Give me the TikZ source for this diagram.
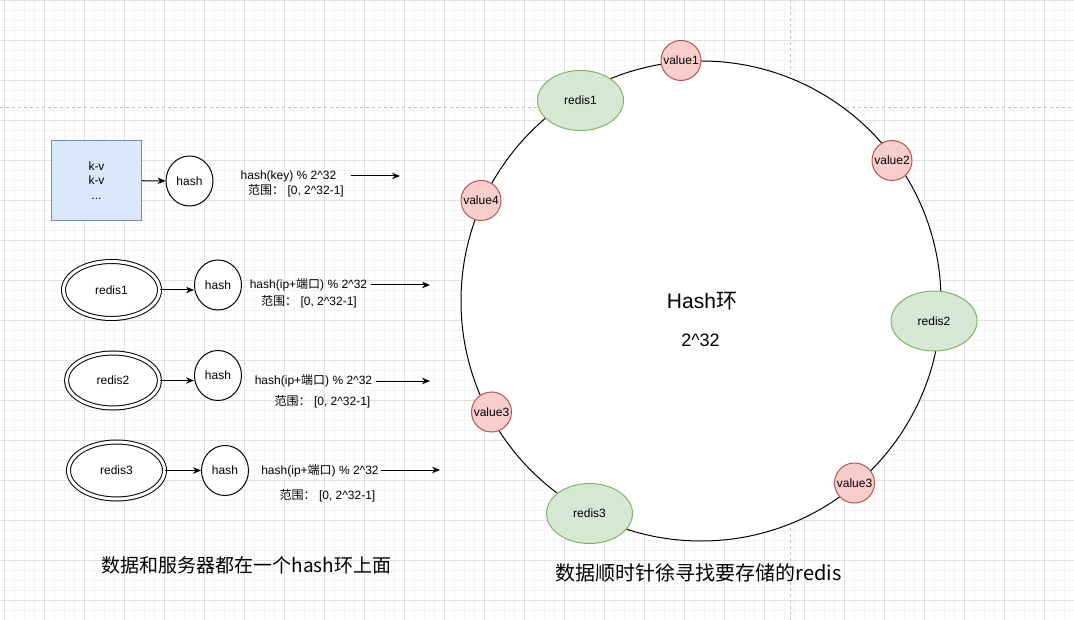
\documentclass[tikz,border=0pt]{standalone}
\usepackage{fontspec}
\setmainfont{Liberation Sans}
\newfontfamily\cjk{Noto Sans CJK SC}
\usetikzlibrary{positioning,shapes.geometric,arrows.meta}
\definecolor{bluefill}{HTML}{DAE8FC}
\definecolor{blueline}{HTML}{6C8EBF}
\definecolor{greenfill}{HTML}{D5E8D4}
\definecolor{greenline}{HTML}{82B366}
\definecolor{redfill}{HTML}{F8CECC}
\definecolor{redline}{HTML}{B85450}
\definecolor{minorline}{HTML}{F3F3F3}
\definecolor{majorline}{HTML}{E0E0E0}
\definecolor{pageline}{HTML}{C0C0C0}

\begin{document}
\begin{tikzpicture}[%
    x=1pt,
    y=-1pt,
    >={Stealth[length=8pt,width=6.5pt]},
    line width=1pt,
    font=\fontsize{12pt}{14.4pt}\selectfont,
    minorgrid/.style={%
      draw=minorline,
      line width=0.8pt
    },
    majorgrid/.style={%
      draw=majorline,
      line width=0.8pt
    },
    pagebreak/.style={%
      draw=pageline,
      line width=0.8pt,
      dash pattern=on 3pt off 3pt
    },
    kvbox/.style={%
      rectangle,
      draw=blueline,
      fill=bluefill,
      align=center,
      minimum width=90pt,
      minimum height=80pt
    },
    hashnode/.style={%
      ellipse,
      draw,
      fill=white,
      inner sep=0pt,
      minimum width=47pt,
      minimum height=50pt
    },
    srcnode/.style={%
      ellipse,
      draw,
      double,
      double distance=3pt,
      fill=white,
      inner sep=0pt,
      minimum width=96pt,
      minimum height=57pt
    },
    valnode/.style={%
      circle,
      draw=redline,
      fill=redfill,
      inner sep=0pt,
      minimum size=40pt
    },
    srvnode/.style={%
      ellipse,
      draw=greenline,
      fill=greenfill,
      inner sep=0pt,
      minimum width=86pt,
      minimum height=60pt
    },
    label/.style={%
      inner sep=0pt
    }
  ]
    \useasboundingbox (0,0) rectangle (1074,620);
    \fill[white] (0,0) rectangle (1074,620);

    % grid
    \foreach \x in {4,14,...,1074}
      \draw[minorgrid] (\x,0) -- (\x,620);
    \foreach \y in {0,10,...,620}
      \draw[minorgrid] (0,\y) -- (1074,\y);
    \foreach \x in {4,44,...,1074}
      \draw[majorgrid] (\x,0) -- (\x,620);
    \foreach \y in {0,40,...,620}
      \draw[majorgrid] (0,\y) -- (1074,\y);
    \draw[pagebreak] (0,107) -- (1074,107);
    \draw[pagebreak] (790,0) -- (790,620);

    % left side
    \node[kvbox] (kv) at (96.5,180.5) {k-v\\k-v\\...};
    \node[hashnode] (h1) at (189.5,181) {hash};
    \node[srcnode] (r1) at (111.5,290) {redis1};
    \node[hashnode] (h2) at (218,285) {hash};
    \node[srcnode, minimum width=93pt, minimum height=55pt] (r2) at (113,380.5) {redis2};
    \node[hashnode] (h3) at (218,375.5) {hash};
    \node[srcnode] (r3) at (116.5,470.5) {redis3};
    \node[hashnode] (h4) at (225,470.5) {hash};

    \node[label] (f1) at (288.5,176) {hash(key) \% 2\textasciicircum32};
    \node[label] (g1) at (296,191) {{\cjk 范围：} [0, 2\textasciicircum32-1]};
    \node[label] (f2) at (308.5,285) {hash(ip+{\cjk 端口}) \% 2\textasciicircum32};
    \node[label] (g2) at (309,302) {{\cjk 范围：} [0, 2\textasciicircum32-1]};
    \node[label] (f3) at (313.5,381) {hash(ip+{\cjk 端口}) \% 2\textasciicircum32};
    \node[label] (g3) at (322.5,402) {{\cjk 范围：} [0, 2\textasciicircum32-1]};
    \node[label] (f4) at (320,471) {hash(ip+{\cjk 端口}) \% 2\textasciicircum32};
    \node[label] (g4) at (327.5,496) {{\cjk 范围：} [0, 2\textasciicircum32-1]};

    \coordinate (s1) at (351,176);
    \coordinate (e1) at (400,176);
    \coordinate (s2) at (371,285);
    \coordinate (e2) at (430,285);
    \coordinate (s3) at (376,381);
    \coordinate (e3) at (430,381);
    \coordinate (s4) at (381,470);
    \coordinate (e4) at (440,470);

    \path[->] (kv) edge (h1)
          (r1.east) edge (r1.east -| h2.west)
          (r2.east) edge (r2.east -| h3.west)
          (r3.east) edge (r3.east -| h4.west)
          (s1) edge (e1)
          (s2) edge (e2)
          (s3) edge (e3)
          (s4) edge (e4);

    % hash ring
    \node[circle, draw, fill=white, minimum size=480pt] (ring) at (701,301) {};
    \node[label, font=\fontsize{21pt}{25pt}\selectfont] (title) at (702,301) {Hash{\cjk 环}};
    \node[label, font=\fontsize{18pt}{22pt}\selectfont] (size) at (700.5,340) {2\textasciicircum32};

    \node[valnode] (v1) at (681,60.5) {value1};
    \node[valnode] (v2) at (892,160.5) {value2};
    \node[valnode] (v4) at (481,200.5) {value4};
    \node[valnode] (v3a) at (491.5,412) {value3};
    \node[valnode] (v3b) at (854.5,483) {value3};
    \node[srvnode] (s1n) at (580.5,100.5) {redis1};
    \node[srvnode] (s2n) at (934,321) {redis2};
    \node[srvnode] (s3n) at (589.5,513.5) {redis3};

    % captions
    \node[label, font=\cjk\fontsize{19pt}{22pt}\selectfont] (c1) at (246.5,565) {数据和服务器都在一个hash环上面};
    \node[label, font=\cjk\fontsize{20pt}{24pt}\selectfont] (c2) at (698.5,573) {数据顺时针徐寻找要存储的redis};
\end{tikzpicture}
\end{document}
